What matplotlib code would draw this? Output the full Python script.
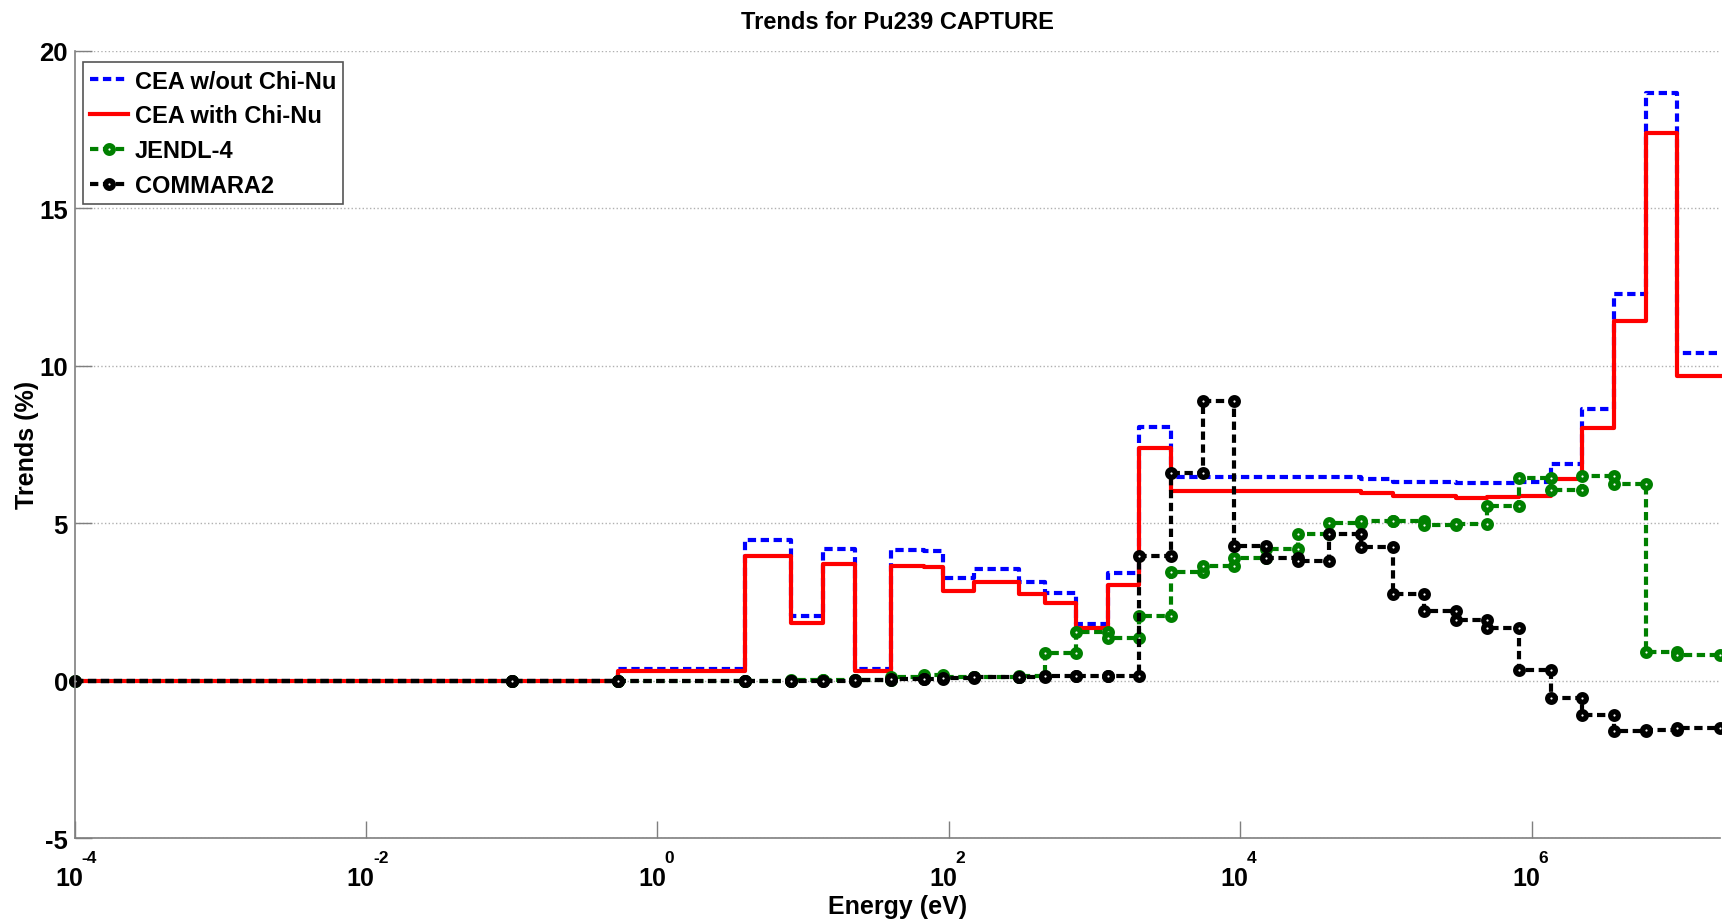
import numpy as np
import matplotlib
matplotlib.use("Agg")
import matplotlib.pyplot as plt
import matplotlib.transforms as mtrans
from matplotlib.ticker import NullLocator

# 33-group energy boundaries (eV), lowest first
bounds = [1e-4, 0.1, 0.54, 4.0, 8.3153, 13.710, 22.603, 40.169, 67.904, 91.661,
          148.63, 304.33, 454.0, 748.52, 1234.1, 2034.7, 3354.6, 5530.8, 9118.8,
          15034, 24788, 40868, 67379, 111090, 183160, 301970, 497870, 820850,
          1353400, 2231300, 3678800, 6065300, 1.0e7, 1.964e7]

# trends (%) per group
cea_sans = [0, 0, 0.37, 4.47, 2.06, 4.18, 0.37, 4.15, 4.10, 3.25, 3.53, 3.12, 2.77,
            1.80, 3.41, 8.04, 6.47, 6.47, 6.47, 6.47, 6.47, 6.47, 6.40, 6.30, 6.30,
            6.26, 6.27, 6.30, 6.89, 8.61, 12.26, 18.67, 10.41]
cea_chinu = [0, 0, 0.31, 3.94, 1.82, 3.69, 0.31, 3.64, 3.60, 2.85, 3.12, 2.74, 2.45,
             1.66, 3.04, 7.38, 6.02, 6.02, 6.02, 6.02, 6.02, 6.02, 5.97, 5.87, 5.87,
             5.80, 5.84, 5.85, 6.41, 8.02, 11.41, 17.37, 9.68]
jendl = [0, 0, 0, 0, 0.01, 0.02, 0.03, 0.10, 0.18, 0.10, 0.10, 0.15, 0.88, 1.55,
         1.36, 2.06, 3.45, 3.65, 3.88, 4.17, 4.64, 5.01, 5.08, 5.06, 4.95, 4.97,
         5.53, 6.43, 6.06, 6.49, 6.24, 0.92, 0.82]
commara = [0, 0, 0, 0, 0, 0, 0.02, 0.05, 0.05, 0.07, 0.10, 0.12, 0.13, 0.14, 0.16,
           3.96, 6.59, 8.88, 4.27, 3.88, 3.78, 4.64, 4.25, 2.74, 2.22, 1.93, 1.67,
           0.32, -0.56, -1.09, -1.60, -1.57, -1.52]

labels = ["CEA w/out Chi-Nu", "CEA with Chi-Nu", "JENDL-4", "COMMARA2"]
xtick_pos = [1e-4, 1e-2, 1, 1e2, 1e4, 1e6]
xtick_exp = ["-4", "-2", "0", "2", "4", "6"]

plt.rcParams["font.family"] = ["Liberation Sans", "DejaVu Sans"]
plt.rcParams["font.weight"] = "bold"
plt.rcParams["axes.unicode_minus"] = False


def stairs(vals):
    # each group drawn as a flat segment between its two boundaries
    x = np.repeat(bounds, 2)[1:-1]
    y = np.repeat(vals, 2)
    return x, y


fig = plt.figure(figsize=(17.22, 9.2), dpi=100)
ax = fig.add_axes([0.0434, 0.088, 0.9554, 0.8559])

dash = (0, (2, 1.1))
x, y = stairs(cea_sans)
ax.plot(x, y, color="#0000ff", lw=3, ls=dash, label=labels[0], clip_on=False)
x, y = stairs(cea_chinu)
ax.plot(x, y, color="#ff0000", lw=3, ls="-", label=labels[1], clip_on=False)
x, y = stairs(jendl)
ax.plot(x, y, color="#008000", lw=3, ls=dash, marker="o", ms=5.5, mew=3.8,
        mfc="white", mec="#008000", label=labels[2], clip_on=False)
x, y = stairs(commara)
ax.plot(x, y, color="black", lw=3, ls=dash, marker="o", ms=5.5, mew=3.8,
        mfc="white", mec="black", label=labels[3], clip_on=False)

ax.set_xscale("log")
ax.set_xlim(bounds[0], bounds[-1])
ax.set_ylim(-5, 20)
ax.set_xticks(xtick_pos)
ax.set_xticklabels([])
ax.xaxis.set_minor_locator(NullLocator())
ax.set_yticks([-5, 0, 5, 10, 15, 20])

# matlab style tick labels: "10" with the exponent raised above it
trans = mtrans.blended_transform_factory(ax.transData, ax.transAxes)
for t, e in zip(xtick_pos, xtick_exp):
    ax.annotate("10", xy=(t, 0), xycoords=trans, xytext=(6, -20),
                textcoords="offset points", ha="right", va="top",
                fontsize=18, fontweight="bold", annotation_clip=False)
    ax.annotate(e, xy=(t, 0), xycoords=trans, xytext=(5, -8.5),
                textcoords="offset points", ha="left", va="top",
                fontsize=12.5, fontweight="bold", annotation_clip=False)

# matlab style axes: only left/bottom, grey, ticks inside
for s in ["top", "right"]:
    ax.spines[s].set_visible(False)
for s in ["left", "bottom"]:
    ax.spines[s].set_color("#7f7f7f")
    ax.spines[s].set_linewidth(1.2)
ax.tick_params(axis="both", direction="in", length=12, width=1, color="#7f7f7f",
               labelsize=18.5, pad=5)
ax.grid(axis="y", ls=":", color="#b0b0b0", lw=1)
ax.set_axisbelow(True)

ax.set_title("Trends for Pu239 CAPTURE", fontsize=17, fontweight="bold", pad=16)
ax.set_xlabel("Energy (eV)", fontsize=18, fontweight="bold")
ax.xaxis.set_label_coords(0.5, -0.071)
ax.set_ylabel("Trends (%)", fontsize=18, fontweight="bold")
ax.yaxis.set_label_coords(-0.022, 0.5)

leg = ax.legend(loc="upper left", bbox_to_anchor=(0.005, 0.985), borderaxespad=0,
                fontsize=17, numpoints=1, handlelength=1.6, handletextpad=0.3,
                labelspacing=0.5, borderpad=0.3, fancybox=False, framealpha=1)
leg.get_frame().set_edgecolor("#555555")
leg.get_frame().set_linewidth(1.2)

plt.savefig("out.png", dpi=100)
